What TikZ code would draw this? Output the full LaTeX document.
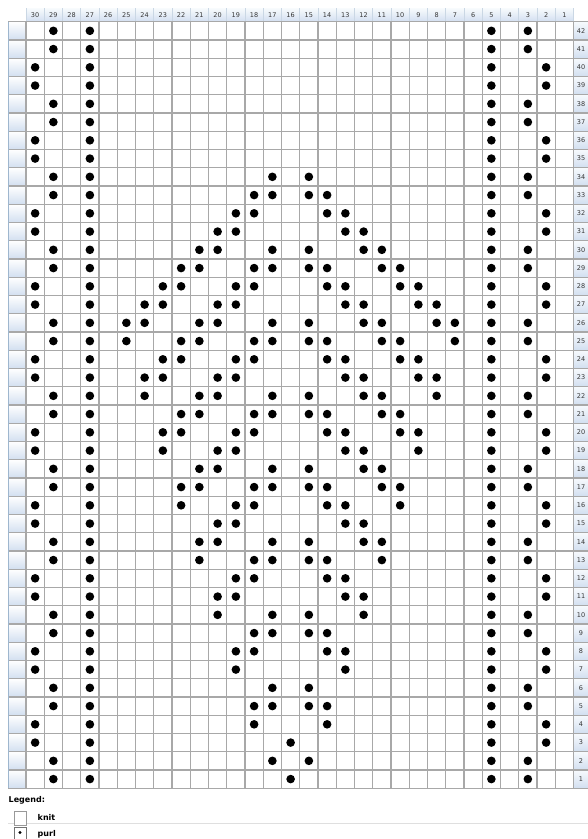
\documentclass[tikz,border=0pt]{standalone}
\usepackage{fontspec}
\setmainfont{DejaVu Sans}
\usepackage{tikz}
\usepackage{xcolor}

\definecolor{gridgray}{RGB}{168,168,168}
\definecolor{headtop}{RGB}{247,250,253}
\definecolor{headbot}{RGB}{210,223,240}
\definecolor{headline}{RGB}{158,182,206}
\definecolor{numgray}{RGB}{55,55,55}

% cell centres: column 30..1 left to right, row 42..1 top to bottom
\newcommand{\colx}[1]{26+(30.5-#1)*18.25}
\newcommand{\rowy}[1]{21.7+(42.5-#1)*18.25}

\begin{document}
\begin{tikzpicture}[x=1pt, y=-1pt,
  numlabel/.style={font=\fontsize{6.5}{7}\selectfont, text=numgray, inner sep=0pt},
  legendtext/.style={font=\bfseries\fontsize{8}{9}\selectfont, anchor=west, inner sep=0pt},
  gridline/.style={draw=gridgray, line width=1.1pt},
  purldot/.style={fill=black}]
  \useasboundingbox (0,0) rectangle (588,839);
  \fill[white] (0,0) rectangle (588,839);

  % === HEADER ROW: column numbers ===
  \shade[top color=headtop, bottom color=headbot] (26,8.3) rectangle (573.5,21.7);
  \foreach \i in {0,...,30}
    \draw[headline!55, line width=0.8pt] ({26+\i*18.25},8.3) -- ({26+\i*18.25},21.7);
  \foreach \c in {1,...,30}
    \node[numlabel] (c\c) at ({\colx{\c}},15.2) {\c};

  % === SIDE COLUMNS: blank row heads and row numbers ===
  \foreach \r in {1,...,42} {
    \shade[top color=white, bottom color=headbot]
      (8.3,{21.7+(42-\r)*18.25}) rectangle (26,{21.7+(43-\r)*18.25});
    \shade[top color=headtop, bottom color=headbot]
      (573.5,{21.7+(42-\r)*18.25}) rectangle (592,{21.7+(43-\r)*18.25});
    \node[numlabel] (r\r) at (581,{\rowy{\r}}) {\r};
  }

  % === GRID ===
  \foreach \i in {0,...,30}
    \draw[gridline] ({26+\i*18.25},21.7) -- ({26+\i*18.25},788.2);
  \foreach \j in {0,...,42}
    \draw[gridline] (8.3,{21.7+\j*18.25}) -- (592,{21.7+\j*18.25});
  \draw[headline, line width=0.8pt] (8.3,21.7) -- (8.3,788.2);

  % === PURL: ribs at the edges ===
  \foreach \r in {1,...,42} {
    \pgfmathtruncatemacro{\m}{mod(\r-1,4)}
    \ifnum\m<2 \def\lc{29}\def\rc{3}\else \def\lc{30}\def\rc{2}\fi
    \foreach \c in {27,5,\lc,\rc}
      \fill[purldot] ({\colx{\c}},{\rowy{\r}}) circle (4.3);
  }

  % === PURL: diamond motif, row/columns ===
  \foreach \r/\cols in {34/{17,15}, 33/{18,17,15,14}, 32/{19,18,14,13},
      31/{20,19,13,12}, 30/{21,20,17,15,12,11}, 29/{22,21,18,17,15,14,11,10},
      28/{23,22,19,18,14,13,10,9}, 27/{24,23,20,19,13,12,9,8},
      26/{25,24,21,20,17,15,12,11,8,7}, 25/{25,22,21,18,17,15,14,11,10,7},
      24/{23,22,19,18,14,13,10,9}, 23/{24,23,20,19,13,12,9,8},
      22/{24,21,20,17,15,12,11,8}, 21/{22,21,18,17,15,14,11,10},
      20/{23,22,19,18,14,13,10,9}, 19/{23,20,19,13,12,9},
      18/{21,20,17,15,12,11}, 17/{22,21,18,17,15,14,11,10},
      16/{22,19,18,14,13,10}, 15/{20,19,13,12}, 14/{21,20,17,15,12,11},
      13/{21,18,17,15,14,11}, 12/{19,18,14,13}, 11/{20,19,13,12},
      10/{20,17,15,12}, 9/{18,17,15,14}, 8/{19,18,14,13}, 7/{19,13},
      6/{17,15}, 5/{18,17,15,14}, 4/{18,14}, 3/{16}, 2/{17,15}, 1/{16}}
    \foreach \c in \cols
      \fill[purldot] ({\colx{\c}},{\rowy{\r}}) circle (4.3);

  % === LEGEND ===
  \node[legendtext] (legend) at (8.5,800) {Legend:};
  \draw[gray!25, line width=1pt] (8.3,823.7) -- (588,823.7);
  \draw[gray!80, line width=0.8pt, fill=white] (14,811) rectangle (26,825);
  \node[legendtext] (knit) at (37.5,817) {knit};
  \draw[gray!90!black, line width=0.8pt, fill=white] (14,827) rectangle (26,841);
  \fill[purldot] (20,832.5) circle (1.7);
  \node[legendtext] (purl) at (37.5,834.5) {purl};
\end{tikzpicture}
\end{document}
